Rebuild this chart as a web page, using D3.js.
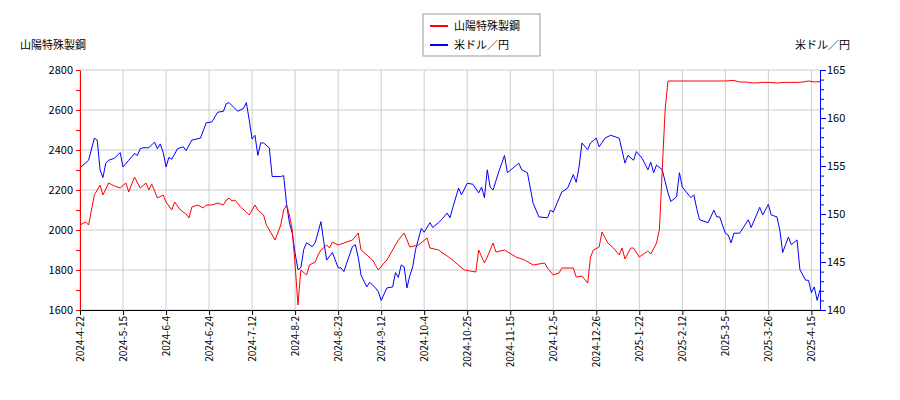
<!DOCTYPE html>
<html><head><meta charset="utf-8">
<script src="https://cdn.jsdelivr.net/npm/d3@7"></script>
<style>body{margin:0;background:#fff}text{font-family:"Noto Sans CJK JP","DejaVu Sans",sans-serif}</style>
</head><body><svg id="c" width="900" height="400"></svg>
<script>
const tickLabels=["2024-4-22","2024-5-15","2024-6-4","2024-6-24","2024-7-12","2024-8-2","2024-8-23","2024-9-12","2024-10-4","2024-10-25","2024-11-15","2024-12-5","2024-12-26","2025-1-22","2025-2-12","2025-3-5","2025-3-26","2025-4-15"];
const tickIdx=[0,15,30,45,60,75,90,105,120,135,150,165,180,195,210,225,240,255];
const redIdx=[0,2,3,5,7,8,10,12,14,16,17,19,21,23,24,25,27,29,30,32,33,35,37,38,39,41,43,44,46,48,50,51,52,53,54,56,58,59,61,62,64,65,67,68,70,71,72,73,74,75,76,77,79,80,82,83,84,86,87,88,90,92,95,97,98,102,104,106,107,109,111,113,115,118,121,122,125,129,134,138,139,141,142,144,145,148,152,155,158,162,163,165,167,168,172,173,175,177,178,179,181,182,184,186,188,189,190,192,193,195,198,199,201,202,203,204,205,210,215,220,225,228,230,232,235,238,240,243,246,250,252,254,256,258];
const redVal=[2025,2040,2025,2175,2225,2175,2235,2220,2210,2235,2190,2265,2210,2235,2200,2230,2160,2175,2140,2100,2140,2100,2080,2060,2115,2125,2110,2125,2125,2135,2125,2150,2160,2145,2150,2115,2090,2075,2125,2100,2075,2025,1975,1950,2025,2100,2125,2075,2000,1825,1625,1800,1775,1825,1840,1875,1900,1925,1910,1940,1925,1935,1950,1985,1900,1850,1800,1835,1850,1900,1950,1985,1915,1925,1960,1910,1900,1860,1800,1790,1900,1835,1865,1935,1890,1900,1865,1850,1825,1835,1810,1775,1785,1810,1810,1765,1770,1735,1865,1900,1915,1990,1935,1910,1875,1910,1855,1910,1910,1865,1895,1880,1935,2000,2300,2600,2745,2745,2745,2745,2745,2748,2740,2740,2735,2738,2738,2735,2738,2738,2740,2745,2740,2742];
const blueIdx=[0,3,5,6,7,8,9,10,12,14,15,17,19,20,21,22,24,26,27,28,29,30,31,32,34,36,37,39,42,44,46,48,50,51,52,55,57,58,59,60,61,62,63,64,66,67,70,71,72,73,74,75,76,77,78,79,81,82,84,85,86,88,90,91,92,93,95,96,97,98,100,101,103,104,105,107,109,110,111,112,113,114,115,116,117,119,120,122,123,125,126,128,129,130,132,133,135,137,139,140,141,142,143,144,146,148,149,151,153,154,156,157,158,160,163,164,165,168,170,172,173,174,175,177,178,180,181,183,185,188,190,191,193,194,196,198,199,200,201,203,205,206,208,209,210,213,214,215,216,219,221,222,223,225,226,227,228,230,233,234,237,238,240,241,243,244,245,247,248,250,251,253,254,255,256,257,258];
const blueVal=[154.8,155.6,157.9,157.7,154.6,153.8,155.3,155.6,155.8,156.4,154.9,155.6,156.3,156.1,156.8,156.9,156.9,157.5,156.8,157.3,156.4,154.9,155.9,155.7,156.8,157.0,156.6,157.7,157.9,159.5,159.6,160.6,160.7,161.5,161.6,160.7,161.0,161.6,159.8,157.8,158.2,156.1,157.4,157.4,156.9,153.9,153.9,154.0,151.1,149.1,148.0,145.9,144.2,144.4,146.3,147.0,146.6,147.0,149.2,147.1,145.2,146.0,144.4,144.4,144.0,144.9,146.6,146.8,145.5,143.6,142.4,142.9,142.3,141.9,141.0,142.3,142.4,143.9,143.4,144.7,144.5,142.3,143.6,144.5,146.3,148.5,148.1,149.1,148.6,149.1,149.4,150.1,149.6,150.7,152.7,152.0,153.2,153.1,152.2,152.8,151.7,154.6,152.8,152.5,154.4,156.1,154.3,154.8,155.3,154.6,154.3,152.7,151.1,149.7,149.6,150.4,150.2,152.3,152.7,154.1,153.3,154.9,157.4,156.7,157.4,157.9,157.0,157.9,158.2,157.9,155.3,156.1,155.6,156.5,155.8,154.6,155.4,154.3,155.1,154.6,152.2,151.3,151.8,154.3,152.8,151.7,152.0,150.6,149.4,149.1,150.4,149.7,149.7,148.0,147.8,147.0,148.0,148.0,149.4,148.6,150.7,149.9,151.0,149.9,149.7,148.3,146.0,147.6,146.8,147.3,144.2,143.1,143.1,141.8,142.4,141.0,142.1];
const leftTicks=[1600,1800,2000,2200,2400,2600,2800];
const rightTicks=[140,145,150,155,160,165];

const svg=d3.select("#c");
const L=80,R=820,T=70,B=310;
const x=d3.scaleLinear().domain([0,258]).range([L,R]);
const yL=d3.scaleLinear().domain([1600,2800]).range([B,T]);
const yR=d3.scaleLinear().domain([140,165]).range([B,T]);
const g=svg.append("g");
tickIdx.forEach(i=>g.append("line").attr("x1",x(i)).attr("x2",x(i)).attr("y1",T).attr("y2",B).attr("stroke","#ccc"));
leftTicks.forEach(v=>g.append("line").attr("x1",L).attr("x2",R).attr("y1",yL(v)).attr("y2",yL(v)).attr("stroke","#ccc"));
const red=redIdx.map((d,i)=>[d,redVal[i]]), blue=blueIdx.map((d,i)=>[d,blueVal[i]]);
svg.append("path").datum(blue).attr("fill","none").attr("stroke","#0000ff").attr("stroke-width",1)
 .attr("d",d3.line().x(d=>x(d[0])).y(d=>yR(d[1])));
svg.append("path").datum(red).attr("fill","none").attr("stroke","#ff0000").attr("stroke-width",1)
 .attr("d",d3.line().x(d=>x(d[0])).y(d=>yL(d[1])));
const al=svg.append("g").attr("transform",`translate(${L},0)`).call(d3.axisLeft(yL).tickValues(d3.range(1600,2801,100)).tickFormat(d=>leftTicks.includes(d)?d:"").tickSize(4).tickSizeOuter(0));
al.selectAll("path,line").attr("stroke","#f00");al.selectAll("text").attr("fill","#000").attr("font-size",11);
const ar=svg.append("g").attr("transform",`translate(${R},0)`).call(d3.axisRight(yR).tickValues(d3.range(140,165.5,1)).tickFormat(d=>rightTicks.includes(d)?d:"").tickSize(4).tickSizeOuter(0));
ar.selectAll("path,line").attr("stroke","#00f");ar.selectAll("text").attr("fill","#000").attr("font-size",11);
ar.selectAll(".tick line").attr("x2",d=>rightTicks.includes(d)?6:4);
const ax=svg.append("g").attr("transform",`translate(0,${B})`).call(d3.axisBottom(x).tickValues(tickIdx).tickFormat((d,i)=>tickLabels[i]).tickSize(5).tickSizeOuter(0));
ax.selectAll("path,line").attr("stroke","#000");
ax.selectAll("text").attr("font-size",10).attr("fill","#000").attr("transform","rotate(-90)").attr("text-anchor","end").attr("dx","-0.6em").attr("dy","-0.45em");
svg.append("text").attr("x",20).attr("y",49).attr("font-size",11).text("山陽特殊製鋼");
svg.append("text").attr("x",850).attr("y",49).attr("font-size",11).attr("text-anchor","end").text("米ドル／円");
const lg=svg.append("g");
lg.append("rect").attr("x",423).attr("y",14).attr("width",117).attr("height",42).attr("fill","#fff").attr("stroke","#999");
[["山陽特殊製鋼","#ff0000"],["米ドル／円","#0000ff"]].forEach((d,i)=>{
 lg.append("line").attr("x1",430).attr("x2",448).attr("y1",26+i*19).attr("y2",26+i*19).attr("stroke",d[1]).attr("stroke-width",2);
 lg.append("text").attr("x",454).attr("y",30+i*19).attr("font-size",11).text(d[0]);
});
</script></body></html>
